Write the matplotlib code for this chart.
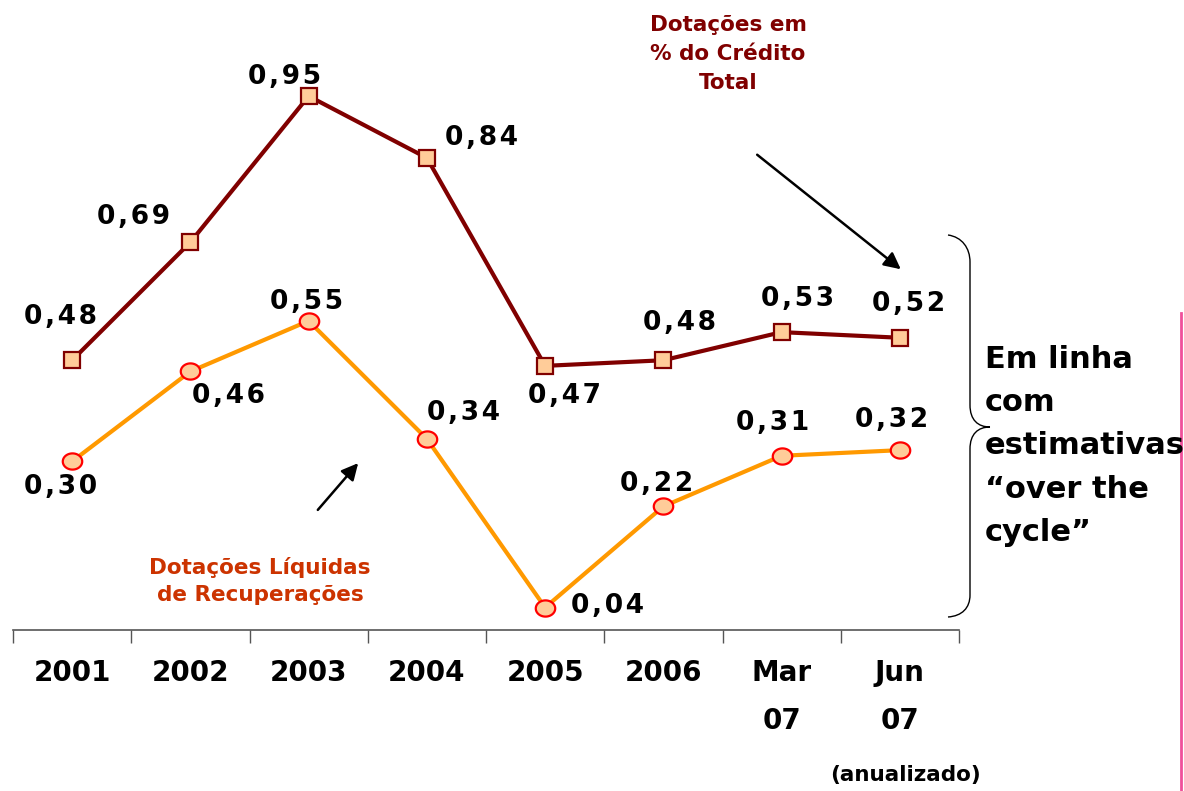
import matplotlib
matplotlib.use("Agg")
import matplotlib.pyplot as plt
from matplotlib.path import Path
from matplotlib.patches import PathPatch, FancyArrowPatch
from matplotlib.markers import MarkerStyle
import matplotlib.transforms as mtransforms
import numpy as np

# ---------------- data ----------------
categories = ["2001", "2002", "2003", "2004", "2005", "2006", "Mar\n07", "Jun\n07"]
dotacoes_credito = [0.48, 0.69, 0.95, 0.84, 0.47, 0.48, 0.53, 0.52]
dotacoes_liquidas = [0.30, 0.46, 0.55, 0.34, 0.04, 0.22, 0.31, 0.32]

# label offsets in pixels (dx, dy) relative to each point
off_credito = [(-12, 43), (-57, 25), (-24, 19), (55, 20), (19, -30), (16, 37), (16, 33), (9, 34)]
off_liquidas = [(-12, -26), (38, -25), (-2, 19), (37, 26), (62, 2), (-7, 22), (-9, 33), (-8, 30)]

W, H = 1184, 791
fig = plt.figure(figsize=(W / 100, H / 100), dpi=100)
fig.patch.set_facecolor("white")

# pixel transform (origin top-left)
px = mtransforms.Affine2D().scale(1 / W, -1 / H).translate(0, 1) + fig.transFigure

left, right = 13 / W, 959 / W
bottom, top = 1 - 630 / H, 1 - 68 / H
ax = fig.add_axes([left, bottom, right - left, top - bottom])

x = np.arange(1, len(categories) + 1)
ax.set_xlim(0.5, len(categories) + 0.5)
ax.set_ylim(0, 1.0)

dark_red = "#800000"
orange = "#FF9900"
peach = "#FFCC99"

ax.plot(x, dotacoes_credito, color=dark_red, lw=3.0, marker="s", markersize=11,
        markerfacecolor=peach, markeredgecolor=dark_red, markeredgewidth=1.6, zorder=3,
        clip_on=False)

theta = np.linspace(0, 2 * np.pi, 60)
ell = Path(np.column_stack([1.2 * np.cos(theta), np.sin(theta)]), closed=True)
ax.plot(x, dotacoes_liquidas, color=orange, lw=3.0, marker=MarkerStyle(ell), markersize=14,
        markerfacecolor=peach, markeredgecolor="#FF0000", markeredgewidth=1.6, zorder=3,
        clip_on=False)


def fmt(v):
    s = f"{v:.2f}".replace(".", ",")
    return "\u200a".join(s)


label_font = dict(fontsize=19, fontweight="bold", color="black", family="DejaVu Sans")
for xi, v, (dx, dy) in zip(x, dotacoes_credito, off_credito):
    ax.annotate(fmt(v), (xi, v), xytext=(dx, dy),
                textcoords="offset pixels", ha="center", va="center", **label_font)
for xi, v, (dx, dy) in zip(x, dotacoes_liquidas, off_liquidas):
    ax.annotate(fmt(v), (xi, v), xytext=(dx, dy),
                textcoords="offset pixels", ha="center", va="center", **label_font)

# axes styling
for s in ["top", "right", "left"]:
    ax.spines[s].set_visible(False)
ax.spines["bottom"].set_color("#555555")
ax.spines["bottom"].set_linewidth(1.2)
ax.set_yticks([])
ax.set_xticks(x)
ax.set_xticklabels(categories, fontsize=20, fontweight="bold", linespacing=1.9)
ax.tick_params(axis="x", which="major", length=0, pad=21)
ax.set_xticks(np.arange(0.5, len(categories) + 1, 1.0), minor=True)
ax.tick_params(axis="x", which="minor", length=9, width=1.0, color="#555555", direction="out")

# texts
fig.text(728 / W, 1 - 54 / H, "Dotações em\n% do Crédito\nTotal", color=dark_red,
         fontsize=15.5, fontweight="bold", ha="center", va="center", linespacing=1.58)
fig.text(260 / W, 1 - 581 / H, "Dotações Líquidas\nde Recuperações", color="#CC3300",
         fontsize=15.5, fontweight="bold", ha="center", va="center", linespacing=1.45)
fig.text(905 / W, 1 - 775 / H, "(anualizado)", color="black",
         fontsize=15.5, fontweight="bold", ha="center", va="center")
fig.text(985 / W, 1 - 446 / H, "Em linha\ncom\nestimativas\n\u201cover the\ncycle\u201d",
         color="black", fontsize=22, fontweight="bold", ha="left", va="center",
         linespacing=1.63)

# arrows
for (x0, y0, x1, y1) in [(755, 153, 903, 271), (316, 512, 360, 461)]:
    arr = FancyArrowPatch((x0, y0), (x1, y1), transform=px, arrowstyle="-|>",
                          mutation_scale=25, lw=1.8, color="black")
    fig.patches.append(arr)

# curly brace
verts = [(948, 235), (962, 237), (970, 248), (970, 262),
         (970, 405),
         (970, 420), (978, 427), (990, 427),
         (978, 427), (970, 434), (970, 449),
         (970, 595),
         (970, 608), (962, 616), (948, 617)]
codes = [Path.MOVETO, Path.CURVE4, Path.CURVE4, Path.CURVE4,
         Path.LINETO,
         Path.CURVE4, Path.CURVE4, Path.CURVE4,
         Path.CURVE4, Path.CURVE4, Path.CURVE4,
         Path.LINETO,
         Path.CURVE4, Path.CURVE4, Path.CURVE4]
brace = PathPatch(Path(verts, codes), transform=px, fill=False, lw=1.0, edgecolor="black")
fig.patches.append(brace)

# pink vertical line on the right edge
fig.add_artist(plt.Line2D([1181 / W, 1181 / W], [1 - 313 / H, 0], transform=fig.transFigure,
                          color="#F0509A", lw=2))

fig.savefig("out.png", dpi=100, facecolor="white")
